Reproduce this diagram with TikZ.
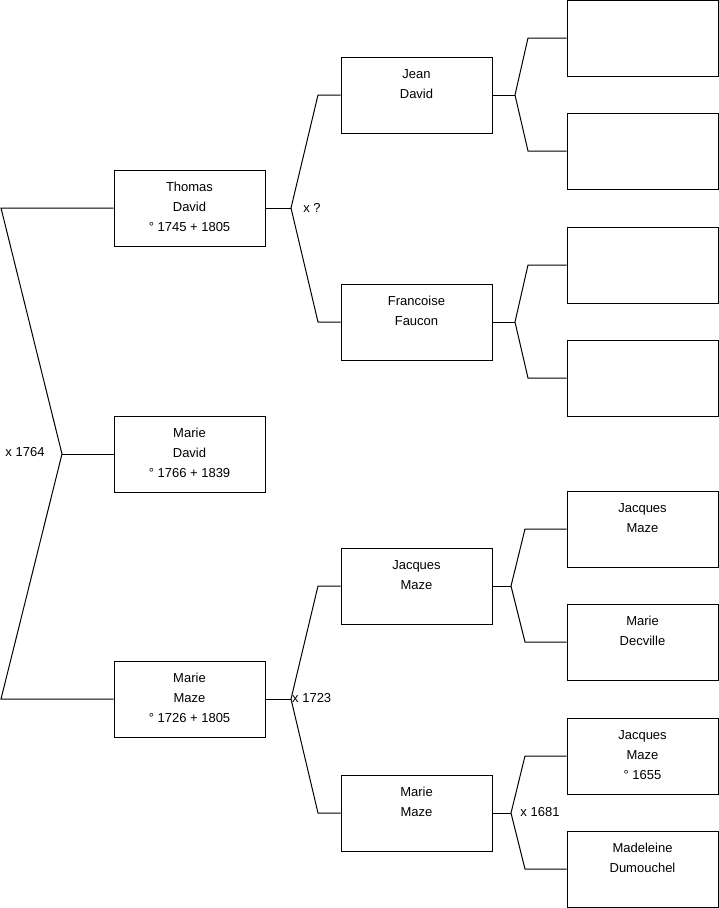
\documentclass[tikz,border=0pt]{standalone}
\usepackage{fontspec}
\setmainfont{Liberation Sans}
\begin{document}
\begin{tikzpicture}[x=1pt,y=-1pt,
  pbox/.style={draw=black,line width=1pt,rectangle,minimum width=151pt,minimum height=76pt,inner sep=0pt},
  ptxt/.style={anchor=base,inner sep=0pt,font=\fontsize{13}{16}\selectfont},
  link/.style={draw=black,line width=1pt,line join=miter}]
\useasboundingbox (0,0) rectangle (719,908);
\newcommand\personone[3]{\node[pbox] (#1) at (#2,#3) {};}
\newcommand\persontwo[5]{\node[pbox] (#1) at (#2,#3) {};
  \node[ptxt] (#1a) at (#2,#3-17) {#4};
  \node[ptxt] (#1b) at (#2,#3+3) {#5};}
\newcommand\personthree[6]{\node[pbox] (#1) at (#2,#3) {};
  \node[ptxt] (#1a) at (#2,#3-17) {#4};
  \node[ptxt] (#1b) at (#2,#3+3) {#5};
  \node[ptxt] (#1c) at (#2,#3+23) {#6};}
% column 1
\personthree{thomas}{189.5}{208}{Thomas}{David}{° 1745 + 1805}
\personthree{mdavid}{189.5}{454}{Marie}{David}{° 1766 + 1839}
\personthree{mmaze}{189.5}{699}{Marie}{Maze}{° 1726 + 1805}
% column 2
\persontwo{jean}{416.5}{95}{Jean}{David}
\persontwo{francoise}{416.5}{322}{Francoise}{Faucon}
\persontwo{jacques}{416.5}{586}{Jacques}{Maze}
\persontwo{mmaze2}{416.5}{813}{Marie}{Maze}
% column 3
\personone{e1}{642.5}{38}
\personone{e2}{642.5}{151}
\personone{e3}{642.5}{265}
\personone{e4}{642.5}{378}
\persontwo{jacques2}{642.5}{529}{Jacques}{Maze}
\persontwo{decville}{642.5}{642}{Marie}{Decville}
\personthree{jacques3}{642.5}{756}{Jacques}{Maze}{° 1655}
\persontwo{madeleine}{642.5}{869}{Madeleine}{Dumouchel}
% marriage labels
\node[ptxt] (m1) at (25,456) {x 1764};
\node[ptxt] (m2) at (312,212) {x ?};
\node[ptxt,anchor=base west] (m3) at (292,702) {x 1723};
\node[ptxt] (m4) at (540,816) {x 1681};
% connectors
\coordinate (a1) at (1,208);
\coordinate (a2) at (62,454);
\coordinate (a3) at (1,699);
\draw[link] (thomas.west) -- (a1) -- (a2) -- (a3) -- (mmaze.west);
\draw[link] (a2) -- (mdavid.west);
% Thomas
\coordinate (b0) at (291,208);
\coordinate (b1) at (318,95);
\coordinate (b2) at (318,322);
\draw[link] (thomas.east) -- (b0);
\draw[link] (jean.west) -- (b1) -- (b0) -- (b2) -- (francoise.west);
% Marie Maze
\coordinate (c0) at (291,699);
\coordinate (c1) at (318,586);
\coordinate (c2) at (318,813);
\draw[link] (mmaze.east) -- (c0);
\draw[link] (jacques.west) -- (c1) -- (c0) -- (c2) -- (mmaze2.west);
% Jean
\coordinate (d0) at (515,95);
\coordinate (d1) at (528,38);
\coordinate (d2) at (528,151);
\draw[link] (jean.east) -- (d0);
\draw[link] (e1.west) -- (d1) -- (d0) -- (d2) -- (e2.west);
% Francoise
\coordinate (f0) at (515,322);
\coordinate (f1) at (528,265);
\coordinate (f2) at (528,378);
\draw[link] (francoise.east) -- (f0);
\draw[link] (e3.west) -- (f1) -- (f0) -- (f2) -- (e4.west);
% Jacques
\coordinate (g0) at (511,586);
\coordinate (g1) at (525,529);
\coordinate (g2) at (525,642);
\draw[link] (jacques.east) -- (g0);
\draw[link] (jacques2.west) -- (g1) -- (g0) -- (g2) -- (decville.west);
% Marie Maze 2
\coordinate (h0) at (511,813);
\coordinate (h1) at (525,756);
\coordinate (h2) at (525,869);
\draw[link] (mmaze2.east) -- (h0);
\draw[link] (jacques3.west) -- (h1) -- (h0) -- (h2) -- (madeleine.west);
\end{tikzpicture}
\end{document}
